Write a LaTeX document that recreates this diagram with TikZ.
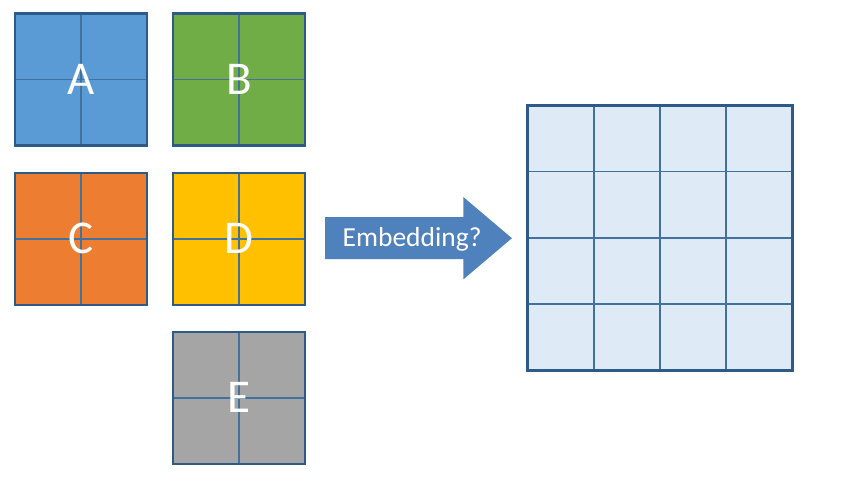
\documentclass[tikz,border=0pt]{standalone}
\usepackage{fontspec}
\setmainfont{Carlito}
\usepackage{tikz}
\usetikzlibrary{shapes.arrows,calc}

\definecolor{edgeblue}{HTML}{2E5A88}
\definecolor{lineblue}{HTML}{41719C}
\definecolor{tileA}{HTML}{5B9BD5}
\definecolor{tileB}{HTML}{70AD47}
\definecolor{tileC}{HTML}{ED7D31}
\definecolor{tileD}{HTML}{FFC000}
\definecolor{tileE}{HTML}{A5A5A5}
\definecolor{cellblue}{HTML}{DEEBF7}
\definecolor{arrowblue}{HTML}{4F81BD}

\begin{document}
\begin{tikzpicture}[
  x=1pt, y=-1pt,
  split/.style={draw=lineblue, line width=1.6pt},
  tile/.style={draw=edgeblue, line width=2.5pt, minimum size=132pt, inner sep=0pt,
    text=white, font=\fontsize{47}{50}\selectfont,
    path picture={\draw[split] (path picture bounding box.north) -- (path picture bounding box.south)
      (path picture bounding box.west) -- (path picture bounding box.east);}},
  grid4/.style={draw=edgeblue, fill=cellblue, line width=2.5pt, minimum size=265pt, inner sep=0pt,
    path picture={\foreach \i in {1,2,3} {
      \draw[split] ($(path picture bounding box.north west)!\i/4!(path picture bounding box.north east)$)
        -- ($(path picture bounding box.south west)!\i/4!(path picture bounding box.south east)$);
      \draw[split] ($(path picture bounding box.north west)!\i/4!(path picture bounding box.south west)$)
        -- ($(path picture bounding box.north east)!\i/4!(path picture bounding box.south east)$);}}},
  embarrow/.style={single arrow, fill=arrowblue, text=white, font=\fontsize{27.5}{30}\selectfont,
    text height=17.5pt, text depth=1pt, inner ysep=11.6pt, inner xsep=0pt,
    minimum height=186.7pt, single arrow head extend=20.2pt, single arrow tip angle=80.6}
]
\useasboundingbox (0,0) rectangle (863,494);
\node[tile, fill=tileA] (a) at (81,79.5) {A};
\node[tile, fill=tileB] (b) at (239.2,79.5) {B};
\node[tile, fill=tileC] (c) at (81,238.8) {C};
\node[tile, fill=tileD] (d) at (239.2,238.8) {D};
\node[tile, fill=tileE] (e) at (239.2,397.9) {E};
\node[embarrow, anchor=tail] (embed) at (325,238.2) {\hspace*{12pt}Embedding?};
\node[grid4] (emb) at (660,237.9) {};
\end{tikzpicture}
\end{document}
